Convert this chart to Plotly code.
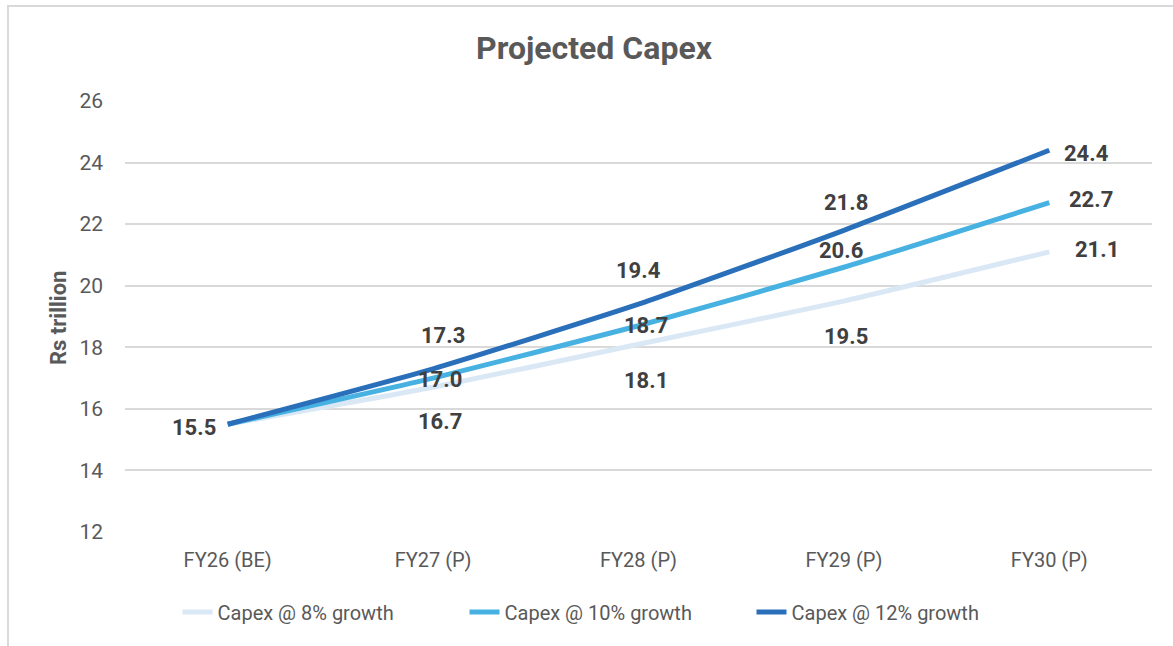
import plotly.graph_objects as go

categories = ["FY26 (BE)", "FY27 (P)", "FY28 (P)", "FY29 (P)", "FY30 (P)"]
capex_8 = [15.5, 16.7, 18.1, 19.5, 21.1]
capex_10 = [15.5, 17.0, 18.7, 20.6, 22.7]
capex_12 = [15.5, 17.3, 19.4, 21.8, 24.4]
series_names = ["Capex @ 8% growth", "Capex @ 10% growth", "Capex @ 12% growth"]
y_ticks = [12, 14, 16, 18, 20, 22, 24, 26]

colors = ["#dae8f6", "#47b1e2", "#2a6fba"]
series = [capex_8, capex_10, capex_12]

fig = go.Figure()
for name, vals, col in zip(series_names, series, colors):
    fig.add_trace(go.Scatter(
        x=categories, y=vals, mode="lines", name=name,
        line=dict(color=col, width=5, shape="spline", smoothing=0.5),
        hoverinfo="skip",
    ))

# label offsets (xshift, yshift) per series per point
label_pos = [
    [None, (7, -34), (7, -36), (2, -35), (48, 2)],
    [None, (7, -1), (7, 0), (-3, 17), (42, 3)],
    [(-34, -3), (10, 33), (0, 34), (2, 28), (37, -3)],
]
label_font = dict(family="Roboto, Arial, sans-serif", size=22, color="#404040")
annotations = []
for vals, poss in zip(series, label_pos):
    for cat, v, p in zip(categories, vals, poss):
        if p is None:
            continue
        annotations.append(dict(
            x=cat, y=v, xref="x", yref="y", text=f"<b>{v:.1f}</b>",
            showarrow=False, xshift=p[0], yshift=p[1], font=label_font,
        ))

L, R, T, B = 125, 21, 101, 114
W, H = 1173, 646
pw, ph = W - L - R, H - T - B

annotations.append(dict(
    x=(58 - L) / pw, y=(H - B - 318) / ph, xref="paper", yref="paper",
    xanchor="center", yanchor="middle",
    text="<b>Rs trillion</b>", showarrow=False, textangle=-90,
    font=dict(family="Roboto, Arial, sans-serif", size=22, color="#595959"),
))

fig.update_layout(
    width=W, height=H,
    margin=dict(l=L, r=R, t=T, b=B, autoexpand=False),
    paper_bgcolor="white", plot_bgcolor="white",
    title=dict(text="<b>Projected Capex</b>", x=594 / W, xanchor="center",
               y=1 - 48 / H, yanchor="middle", yref="container",
               font=dict(family="Roboto, Arial, sans-serif", size=32, color="#595959")),
    xaxis=dict(type="category", range=[-0.5, 4.5], showgrid=False, showline=False,
               zeroline=False, ticks="", ticklabelstandoff=14,
               tickfont=dict(family="Roboto, sans-serif", size=20, color="#595959")),
    yaxis=dict(range=[12, 26], tickvals=y_ticks, showgrid=True, gridcolor="#d9d9d9",
               gridwidth=1.5, showline=False, zeroline=False, ticks="", ticklabelstandoff=21,
               tickfont=dict(family="Roboto, Arial, sans-serif", size=21, color="#595959")),
    legend=dict(orientation="h", x=608 / W, xanchor="center", xref="container",
                y=1 - 612 / H, yanchor="middle", yref="container",
                font=dict(family="Roboto, sans-serif", size=20, color="#595959"),
                entrywidth=242, entrywidthmode="pixels", tracegroupgap=0),
    annotations=annotations,
    shapes=[dict(type="rect", xref="paper", yref="paper",
                 x0=(8 - L) / pw, x1=(1180 - L) / pw,
                 y0=(H - B - 660) / ph, y1=(H - B - 6) / ph,
                 line=dict(color="#d9d9d9", width=2), fillcolor="rgba(0,0,0,0)", layer="below")],
)

fig.write_html("out.html")
